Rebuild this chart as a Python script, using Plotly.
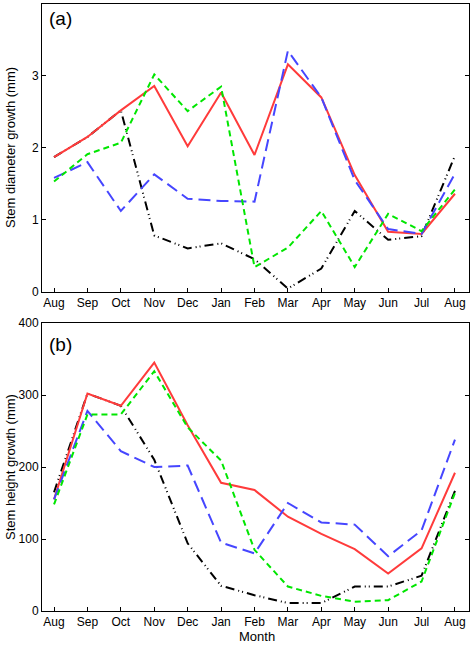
import plotly.graph_objects as go

months = ["Aug", "Sep", "Oct", "Nov", "Dec", "Jan", "Feb", "Mar", "Apr", "May", "Jun", "Jul", "Aug"]
xidx = list(range(len(months)))

# (a) stem diameter growth (mm)
dia_red = [1.87, 2.15, 2.52, 2.86, 2.02, 2.77, 1.90, 3.16, 2.70, 1.62, 0.83, 0.80, 1.36]
dia_blue = [1.58, 1.80, 1.12, 1.63, 1.29, 1.26, 1.25, 3.35, 2.70, 1.55, 0.87, 0.80, 1.64]
dia_green = [1.53, 1.91, 2.07, 3.02, 2.51, 2.85, 0.34, 0.61, 1.12, 0.34, 1.08, 0.84, 1.42]
dia_black = [1.87, 2.15, 2.52, 0.78, 0.60, 0.67, 0.45, 0.04, 0.32, 1.12, 0.72, 0.77, 1.89]

# (b) stem height growth (mm)
hgt_red = [155, 302, 285, 345, 258, 178, 168, 131, 107, 86, 52, 87, 192]
hgt_blue = [155, 278, 222, 200, 202, 95, 80, 150, 123, 120, 76, 112, 238]
hgt_green = [148, 273, 273, 333, 255, 209, 85, 34, 21, 13, 15, 41, 164]
hgt_black = [165, 302, 285, 210, 94, 35, 22, 11, 11, 34, 34, 49, 167]

styles = [
    ("#ff3b3b", "solid"),
    ("#4646ff", "12px,6px"),
    ("#00e600", "6px,4px"),
    ("#000000", "9px,4px,1px,3px,1px,4px"),
]

fig = go.Figure()
for series, axis in [((dia_red, dia_blue, dia_green, dia_black), "1"),
                     ((hgt_red, hgt_blue, hgt_green, hgt_black), "2")]:
    order = [3, 0, 1, 2]
    for i in order:
        col, dash = styles[i]
        fig.add_trace(go.Scatter(
            x=xidx, y=series[i], mode="lines",
            line=dict(color=col, width=2, dash=dash),
            xaxis="x" if axis == "1" else "x2",
            yaxis="y" if axis == "1" else "y2",
            showlegend=False, hoverinfo="skip"))

FAM = "Liberation Sans, Arial, sans-serif"
font = dict(family=FAM, size=12, color="black")
tfont = dict(family=FAM, size=13, color="black")
xcommon = dict(range=[-0.36, 12.42], tickvals=xidx, ticktext=months,
               ticks="inside", ticklen=4, tickcolor="black", showline=True,
               linecolor="black", linewidth=1, mirror=True, showgrid=False,
               zeroline=False, tickfont=font, automargin=False)
ycommon = dict(ticks="inside", ticklen=4, tickcolor="black", showline=True,
               linecolor="black", linewidth=1, mirror="ticks", showgrid=False,
               zeroline=False, tickfont=font, automargin=False)

H = 607.0
top_dom = [(611 - 291.5) / H, 1.0]
bot_dom = [0.0, 288 / H]

def py(p):
    return (611 - p) / H

def px(p):
    return (p - 42) / 427.0

fig.update_layout(
    width=471, height=645,
    margin=dict(l=42, r=2, t=4, b=34),
    paper_bgcolor="white", plot_bgcolor="white",
    font=font,
    xaxis=dict(**xcommon, domain=[0, 1], anchor="y"),
    yaxis=dict(**ycommon, domain=top_dom, range=[0, 4], tickvals=[0, 1, 2, 3, 4], anchor="x"),
    xaxis2=dict(**xcommon, domain=[0, 1], anchor="y2"),
    yaxis2=dict(**ycommon, domain=bot_dom, range=[0, 400], tickvals=[0, 100, 200, 300, 400], anchor="x2"),
    annotations=[
        dict(text="(a)", x=px(47), y=py(18), xref="paper", yref="paper",
             xanchor="left", yanchor="middle", showarrow=False,
             font=dict(family=FAM, size=19, color="black")),
        dict(text="(b)", x=px(47), y=py(344), xref="paper", yref="paper",
             xanchor="left", yanchor="middle", showarrow=False,
             font=dict(family=FAM, size=19, color="black")),
        dict(text="Stem diameter growth (mm)", x=px(10), y=py(148), xref="paper", yref="paper",
             xanchor="center", yanchor="middle", textangle=-90, showarrow=False, font=tfont),
        dict(text="Stem height growth (mm)", x=px(10), y=py(467), xref="paper", yref="paper",
             xanchor="center", yanchor="middle", textangle=-90, showarrow=False, font=tfont),
        dict(text="Month", x=px(257), y=py(636), xref="paper", yref="paper",
             xanchor="center", yanchor="middle", showarrow=False, font=tfont),
    ],
)

fig.write_html("out.html", config={"displayModeBar": False},
               post_script="document.body.style.margin='0px';document.body.style.overflow='hidden';")
